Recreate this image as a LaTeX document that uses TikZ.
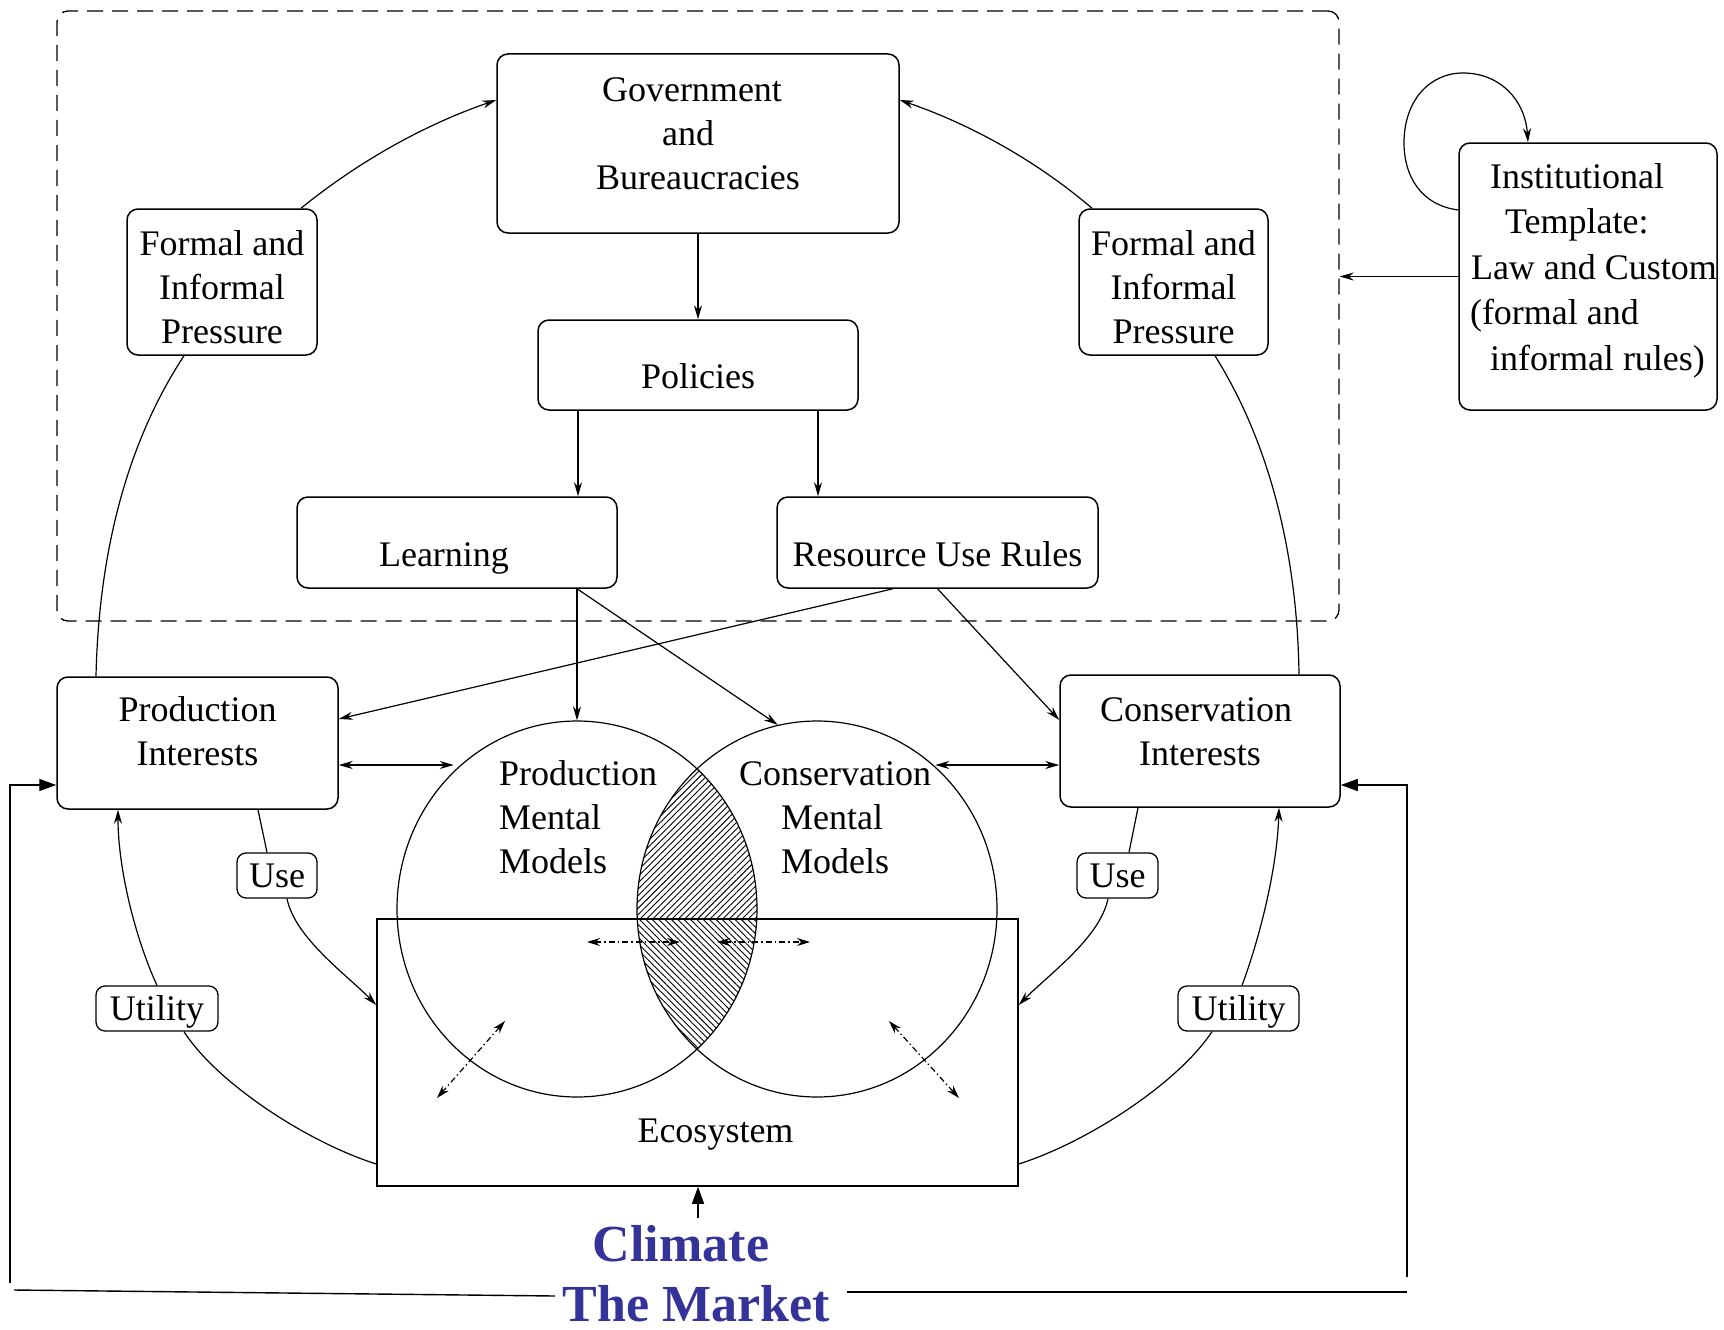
\documentclass[tikz,border=0pt]{standalone}
\usepackage{fontspec}
\setmainfont{Liberation Serif}
\usetikzlibrary{arrows.meta,shapes.geometric,patterns.meta,calc}
\definecolor{navy}{RGB}{51,51,153}
\newcommand{\btx}[4]{\parbox[c][#2][t]{#1}{\centering\rule{0pt}{#3}#4\par}}
\newcommand{\blx}[4]{\parbox[c][#2][t]{#1}{\raggedright\rule{0pt}{#3}#4\par}}
\begin{document}
\begin{tikzpicture}[x=1pt,y=-1pt,font=\fontsize{36}{44}\selectfont,
  box/.style={draw,rounded corners=11pt,line width=1.5pt,inner sep=0pt},
  lab/.style={draw,rounded corners=9pt,line width=1.3pt,inner sep=0pt,minimum height=45pt,text height=24pt,text depth=0pt},
  txt/.style={inner sep=0pt},
  conn/.style={line width=1.2pt},
  arr/.style={conn,-{Stealth[length=14pt,width=8pt]}},
  dbl/.style={conn,{Stealth[length=14pt,width=8pt]}-{Stealth[length=14pt,width=8pt]}},
  big/.style={line width=1.4pt,-{Triangle[length=17pt,width=12pt]}},
  dda/.style={line width=1.2pt,dash pattern=on 6pt off 3pt on 1.5pt off 3pt,{Stealth[length=13pt,width=8pt]}-{Stealth[length=13pt,width=8pt]}},
  oval/.style={draw,ellipse,minimum width=360pt,minimum height=376pt,inner sep=0pt,line width=1.2pt}]
\useasboundingbox (0,0) rectangle (1724,1330);

% dashed frame
\node[box,line width=1.3pt,dash pattern=on 16pt off 9pt,minimum width=1282pt,minimum height=610pt] (frame) at (698,316) {};

% boxes
\node[box] (gov) at (698,143.5) {\btx{402pt}{179pt}{47pt}{\hspace*{-12pt}Government\\\hspace*{-20pt}and\\Bureaucracies}};
\node[box] (pol) at (698,365) {\btx{320pt}{90pt}{68pt}{Policies}};
\node[box] (learn) at (457,542.5) {\btx{320pt}{91pt}{69pt}{\hspace*{-26pt}Learning}};
\node[box] (rur) at (937.5,542.5) {\btx{321pt}{91pt}{69pt}{Resource Use Rules}};
\node[box] (fl) at (222,282) {\btx{190pt}{146pt}{46pt}{Formal and\\Informal\\Pressure}};
\node[box] (fr) at (1173.5,282) {\btx{189pt}{146pt}{46pt}{Formal and\\Informal\\Pressure}};
\node[box] (inst) at (1588,276.5) {\fontsize{36}{45.5}\selectfont\blx{258pt}{267pt}{45pt}{\hspace*{31pt}\mbox{Institutional}\\\hspace*{46pt}\mbox{Template:}\\\hspace*{12pt}\mbox{Law and Custom}\\\hspace*{11pt}\mbox{(formal and}\\\hspace*{31pt}\mbox{informal rules)}}};
\node[box] (prod) at (197.5,743) {\btx{281pt}{132pt}{44pt}{Production\\Interests}};
\node[box] (cons) at (1200,741) {\btx{280pt}{132pt}{46pt}{\hspace*{-8pt}Conservation\\Interests}};

% hatched lens
\begin{scope}
\clip (577,909) ellipse [x radius=180, y radius=188];
\clip (817,909) ellipse [x radius=180, y radius=188];
\fill[pattern={Lines[angle=45,distance=4.5pt,line width=0.9pt]}] (600,700) rectangle (800,919);
\fill[pattern={Lines[angle=-45,distance=4.5pt,line width=0.9pt]}] (600,919) rectangle (800,1100);
\end{scope}

% ecosystem and mental models
\node[draw,line width=1.5pt,inner sep=0pt] (eco) at (697.5,1052.5) {\btx{641pt}{267pt}{223pt}{\hspace*{36pt}Ecosystem}};
\node[oval] (pmm) at (577,909) {};
\node[oval] (cmm) at (817,909) {};
\node[txt,anchor=north west] (pmmt) at (499,755) {\blx{170pt}{130pt}{30pt}{Production\\Mental\\Models}};
\node[txt,anchor=north west] (cmmt) at (739,755) {\blx{200pt}{130pt}{30pt}{Conservation\\\hspace*{42pt}Mental\\\hspace*{42pt}Models}};

% use / utility labels
\node[lab,minimum width=80pt] (ul) at (277,875.5) {Use};
\node[lab,minimum width=81pt] (ur) at (1117.5,875.5) {Use};
\node[lab,minimum width=122pt] (utl) at (157,1008.5) {Utility};
\node[lab,minimum width=121pt] (utr) at (1238.5,1008.5) {Utility};

% climate / market
\node[txt,anchor=base,text=navy,font=\fontsize{52}{62}\selectfont\bfseries] (clim) at (681,1261) {Climate};
\node[txt,anchor=base,text=navy,font=\fontsize{52}{62}\selectfont\bfseries] (market) at (696,1321) {The Market};

% inner connectors
\draw[arr] (gov.south) -- (pol.north);
\draw[arr] ([xshift=-120pt]pol.south) -- ([xshift=-120pt]pol.south |- learn.north);
\draw[arr] ([xshift=120pt]pol.south) -- ([xshift=120pt]pol.south |- rur.north);
\draw[arr] (learn.south -| pmm.north) -- (pmm.north);
\draw[arr] (learn.south -| pmm.north) -- (cmm.102);
\draw[arr] ([xshift=-44.5pt]rur.south) -- ([yshift=24pt]prod.east);
\draw[arr] (rur.south) -- ([yshift=21pt]cons.west);
\draw[dbl] ([yshift=-22pt]prod.east) -- ++(115,0);
\draw[dbl] ([yshift=-24pt]cons.west) -- ++(-124,0);

% upper arcs
\draw[arr] ([xshift=79pt]fl.north) .. controls (359.5,160.8) and (425.2,124.5) .. ([yshift=43.5pt]gov.west);
\draw[arr] ([xshift=-81.5pt]fr.north) .. controls (1036.5,160.8) and (970.8,124.5) .. ([yshift=43.5pt]gov.east);
\draw[conn] ([xshift=-38pt]fl.south) .. controls (122.3,449.7) and (98.5,564) .. ([xshift=-101.5pt]prod.north);
\draw[conn] ([xshift=41.5pt]fr.south) .. controls (1273.7,449.7) and (1297.5,564) .. ([xshift=99pt]cons.north);

% use arcs
\draw[conn] ([xshift=60.5pt]prod.south) -- ([xshift=-10pt]ul.north);
\draw[arr] ([xshift=10pt]ul.south) .. controls (295,938) and (347,975) .. ([yshift=47.5pt]eco.west);
\draw[conn] ([xshift=-62pt]cons.south) -- ([xshift=11.5pt]ur.north);
\draw[arr] ([xshift=-9.5pt]ur.south) .. controls (1100,938) and (1048,975) .. ([yshift=47.5pt]eco.east);

% utility arcs
\draw[conn] ([yshift=-111.5pt]eco.west) .. controls (307,1142) and (217,1083) .. ([xshift=27pt]utl.south);
\draw[arr] (utl.north) .. controls (136,940) and (118,870) .. ([xshift=-79.5pt]prod.south);
\draw[conn] ([yshift=-111.5pt]eco.east) .. controls (1088,1142) and (1178,1083) .. ([xshift=-26.5pt]utr.south);
\draw[arr] ([xshift=3.5pt]utr.north) .. controls (1259,940) and (1277,870) .. ([xshift=79pt]cons.south);

% institutional template
\draw[arr] (inst.west) -- (inst.west -| frame.east);
\draw[arr] ([yshift=66.5pt]inst.west) .. controls (1420,205) and (1404,175) .. (1404,143) .. controls (1404,100) and (1430,73) .. (1463,73) .. controls (1500,73) and (1525,100) .. ([xshift=-60pt]inst.north);

% dotted exchange arrows
\coordinate (d1a) at (587,942); \coordinate (d1b) at (680,942);
\coordinate (d2a) at (717,942); \coordinate (d2b) at (810,942);
\coordinate (d3a) at (505,1021); \coordinate (d3b) at (437,1098);
\coordinate (d4a) at (889,1021); \coordinate (d4b) at (959,1098);
\draw[dda] (d1a) -- (d1b);
\draw[dda] (d2a) -- (d2b);
\draw[dda] (d3a) -- (d3b);
\draw[dda] (d4a) -- (d4b);

% outer loop
\coordinate (ct) at (698,1218);
\draw[big] (ct) -- (ct |- eco.south);
\coordinate (lb) at (10,1283);
\draw[big] (lb) |- ([yshift=-42pt]prod.west);
\coordinate (rb) at (1407,1277);
\draw[big] (rb) |- ([yshift=-44pt]cons.east);
\coordinate (le) at (14,1290);
\coordinate (re) at (1407,1292);
\draw[line width=1.4pt] (555,1296) -- (le);
\draw[line width=1.4pt] (847,1292) -- (re);
\end{tikzpicture}
\end{document}
